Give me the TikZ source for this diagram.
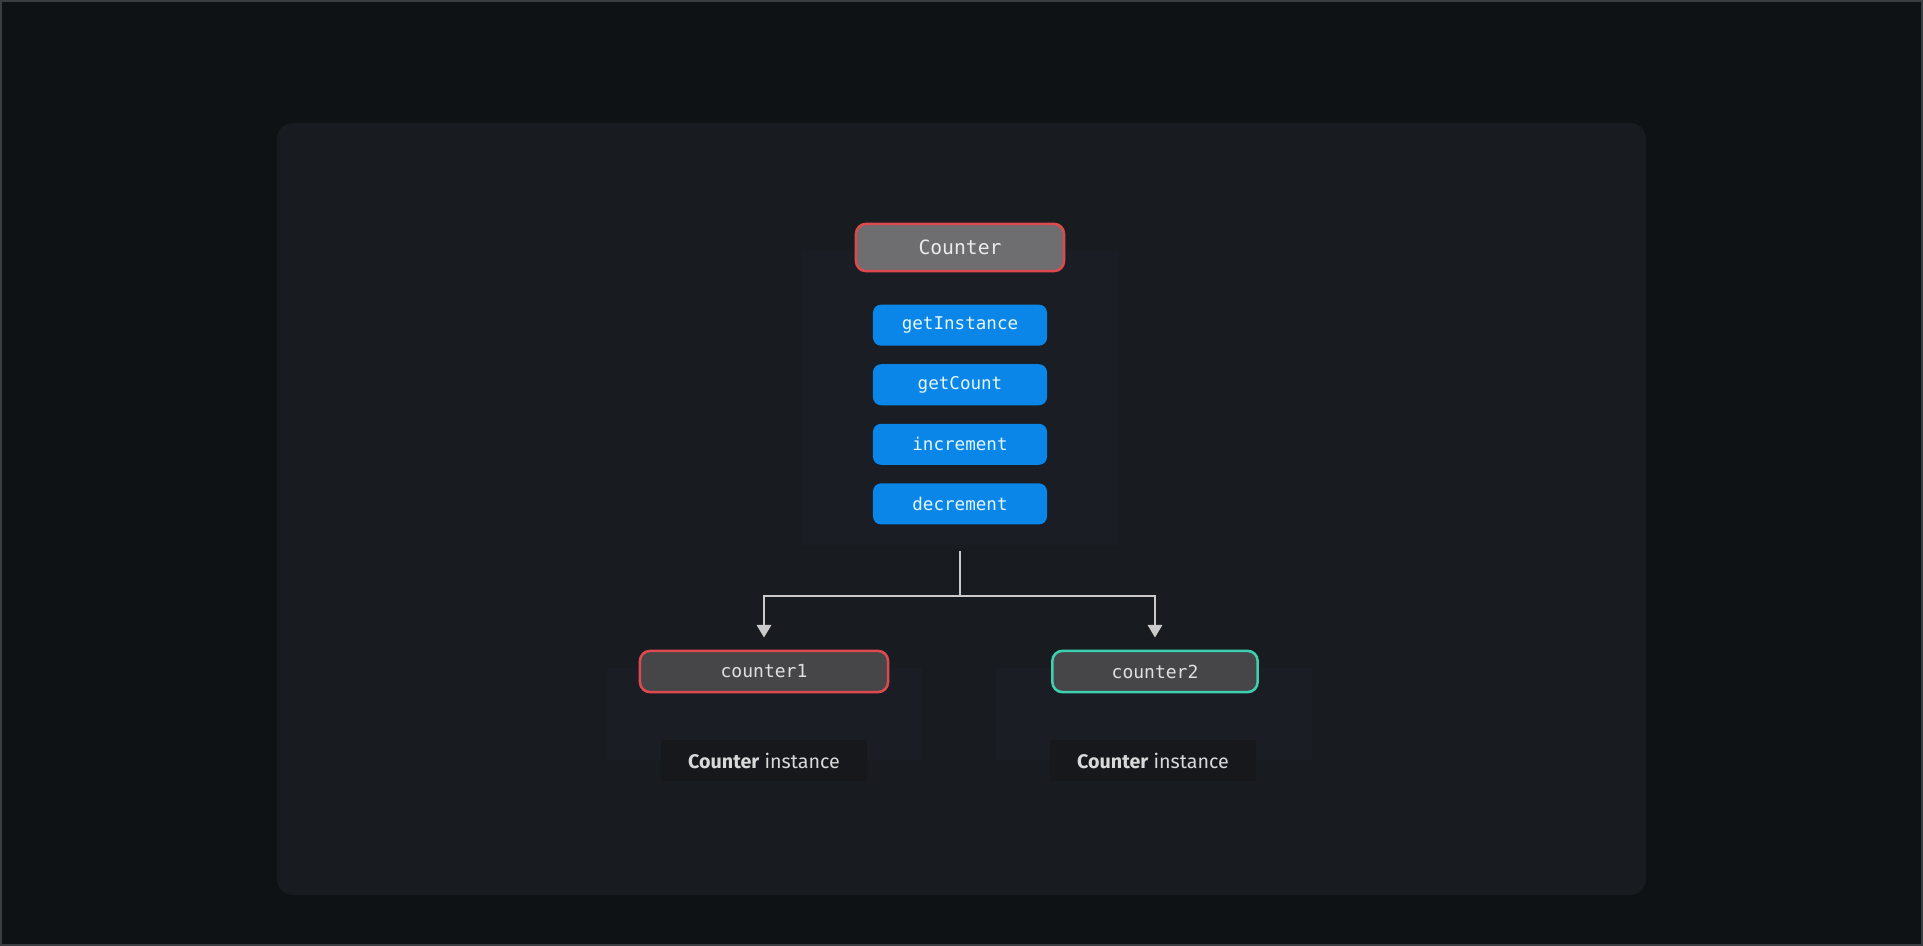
\documentclass[tikz,border=0pt]{standalone}
\usepackage{fontspec}
\setmonofont{DejaVu Sans Mono}
\setsansfont{Fira Sans}
\usetikzlibrary{positioning,arrows.meta}

\definecolor{screen}{HTML}{0F1215}
\definecolor{frameline}{HTML}{3A3D41}
\definecolor{panel}{HTML}{181B20}
\definecolor{backdrop}{HTML}{1A1D23}
\definecolor{labelbg}{HTML}{16181C}
\definecolor{classgray}{HTML}{6E6E70}
\definecolor{instgray}{HTML}{464649}
\definecolor{redline}{HTML}{DD4A4D}
\definecolor{tealline}{HTML}{3DCFAE}
\definecolor{methodblue}{HTML}{0A86E8}
\definecolor{linkgray}{HTML}{CACACA}

\begin{document}
\begin{tikzpicture}[x=0.025cm,y=-0.025cm,
      klass/.style={draw=redline,fill=classgray,line width=1.8pt,rounded corners=0.25cm,
        minimum width=5.2cm,minimum height=1.18cm,text=white!92!black,
        font=\ttfamily\fontsize{14}{16}\selectfont},
      method/.style={fill=methodblue,rounded corners=0.2cm,minimum width=4.35cm,minimum height=1.025cm,
        text=white!90!cyan,font=\ttfamily\fontsize{12.5}{14}\selectfont},
      inst/.style={fill=instgray,line width=1.8pt,rounded corners=0.25cm,minimum height=1.03cm,
        text=white!88!black,font=\ttfamily\fontsize{12.8}{15}\selectfont},
      caption/.style={fill=labelbg,minimum width=5.15cm,minimum height=1.02cm,
        text=white!85!black,font=\sffamily\fontsize{14}{16}\selectfont},
      link/.style={draw=linkgray,line width=2pt},
      arrow/.style={link,-{Triangle[width=10pt,length=9pt]},shorten >=0.3cm}]

    % screen and panel
    \useasboundingbox (0,0) rectangle (1923,946);
    \fill[screen] (0,0) rectangle (1923,946);
    \draw[frameline,line width=1.5pt] (1,1) rectangle (1922,945);
    \fill[panel,rounded corners=0.4cm] (277,123) rectangle (1646,895);

    % faint backdrops
    \node[fill=backdrop,minimum width=7.95cm,minimum height=7.375cm] (methodsbg) at (960,398.5) {};
    \fill[backdrop] (607,668) rectangle (922,760);
    \fill[backdrop] (996,668) rectangle (1312,760);

    % the class and its methods
    \node[klass] (counter) at (960,247.5) {Counter};
    \node[method,below=0.8cm of counter] (getInstance) {getInstance};
    \foreach \m/\p in {getCount/getInstance,increment/getCount,decrement/increment} {
      \node[method,below=0.45cm of \p] (\m) {\m};
    }

    % instances
    \node[inst,draw=redline,minimum width=6.2cm] (counter1) at (764,671.5) {counter1};
    \node[inst,draw=tealline,minimum width=5.13cm] (counter2) at (1155,671.5) {counter2};
    \node[caption] (label1) at (764,760.5) {\textbf{Counter} instance};
    \node[caption] (label2) at (1153,760.5) {\textbf{Counter} instance};

    % links
    \coordinate (fork) at (960,596);
    \draw[link,shorten <=0.12cm] (methodsbg.south) -- (fork);
    \draw[arrow] (fork) -| (counter1.north);
    \draw[arrow] (fork) -| (counter2.north);

\end{tikzpicture}
\end{document}
